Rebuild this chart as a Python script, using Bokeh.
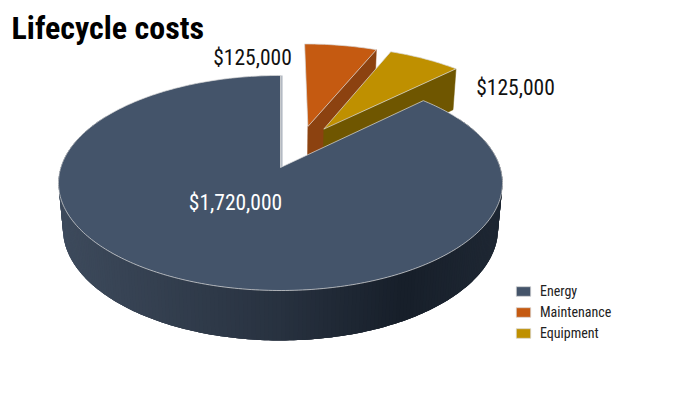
import numpy as np
from bokeh.plotting import figure
from bokeh.embed import file_html
from bokeh.resources import INLINE
from bokeh.models import Range1d, Legend, LegendItem, Label
from bokeh.core.properties import value

title = "Lifecycle costs"
categories = ["Energy", "Maintenance", "Equipment"]
costs = [1720000, 125000, 125000]
cost_labels = ["$1,720,000", "$125,000", "$125,000"]

FONT = "'Roboto Condensed', Roboto"
CX, CY = 280, 167
A, B, K, H, M = 105.3, 219.7, 0.144, 46.2, 0.02

COL = {"Energy": "#44546a", "Maintenance": "#c55a11", "Equipment": "#bf9000"}
WALL = {"Maintenance": "#8c4210", "Equipment": "#6f5600"}
EXPLODE = {"Energy": (0.0, 0.0), "Maintenance": (0.132, -0.412), "Equipment": (0.208, -0.385)}

p = figure(width=684, height=378, toolbar_location=None, output_backend="svg",
           x_range=Range1d(0, 684), y_range=Range1d(378, 0), min_border=0)
p.axis.visible = False
p.grid.visible = False
p.outline_line_color = None
p.background_fill_color = "white"
p.border_fill_color = "white"


def low(u, v):
    u, v = np.asarray(u, float), np.asarray(v, float)
    w = 1 - K * v + M
    return CX + B * u / w, CY + (A * v + H) / w


def project_top(u, v):
    u, v = np.asarray(u, float), np.asarray(v, float)
    w = 1 - K * v
    return CX + B * u / w, CY + A * v / w


# clockwise from twelve o'clock: Maintenance, Equipment, then Energy
order = ["Maintenance", "Equipment", "Energy"]
val = dict(zip(categories, costs))
total = sum(costs)
spans = {}
a0 = 0.0
for c in order:
    a1 = a0 + 2 * np.pi * val[c] / total
    spans[c] = (a0, a1)
    a0 = a1


def mix(x):
    f = (x - 57) / 445
    stops = [(0, (62, 75, 93)), (0.5, (40, 50, 64)), (0.78, (23, 31, 42)), (1, (31, 40, 52))]
    for (f0, c0), (f1, c1) in zip(stops, stops[1:]):
        if f <= f1:
            t = max(0, (f - f0) / (f1 - f0))
            r = [int(c0[i] + (c1[i] - c0[i]) * t) for i in range(3)]
            return "#%02x%02x%02x" % tuple(r)
    return "#1f2834"


handles = {}
for c in order:
    s, e = spans[c]
    du, dv = EXPLODE[c]
    th = np.linspace(s, e, max(int((e - s) * 60), 20))
    u = du + np.sin(th)
    v = dv - np.cos(th)

    if c != "Energy":
        ue, ve = u[-1], v[-1]
        xa, ya = project_top([du, ue], [dv, ve])
        xb, yb = low([du, ue], [dv, ve])
        p.patch([xa[0], xa[1], xb[1], xb[0]], [ya[0], ya[1], yb[1], yb[0]],
                fill_color=WALL[c], line_color=WALL[c], line_width=0.5)
    else:
        # outer wall, shaded strip by strip; strips overlap so that no seams show
        keep = np.where(v > -0.5)[0]
        for i in keep[:-1]:
            j = min(i + 4, len(th))
            xa, ya = project_top(u[i:j], v[i:j])
            xb, yb = low(u[i:j], v[i:j])
            col = mix(float(xa[:2].mean()))
            p.patch(np.r_[xa, xb[::-1]], np.r_[ya, yb[::-1]], fill_color=col, line_color=None)
        # the thin, pale inner face of the slice's edge at twelve o'clock
        ex, ey = project_top([du, u[-1]], [dv, v[-1]])
        p.line(ex + 1.2, ey, line_color="#b4bac3", line_width=1.8)

    px, py = project_top(np.r_[du, u], np.r_[dv, v])
    handles[c] = p.patch(px, py, fill_color=COL[c], line_color="#d9d9d9", line_width=0.8,
                         line_alpha=0.9)

legend = Legend(items=[LegendItem(label=value(c), renderers=[handles[c]]) for c in categories],
                location=(514, 37), orientation="vertical", background_fill_alpha=0,
                border_line_color=None, padding=0, margin=0, spacing=5,
                glyph_width=18, glyph_height=12, label_standoff=8,
                label_text_font=FONT, label_text_font_size="14px", label_text_color="#222222")
p.add_layout(legend, "center")

fs = "21.5px"
for txt, x, y, col in [(cost_labels[0], 235, 202, "white"),
                       (cost_labels[1], 252, 57, "#111111"),
                       (cost_labels[2], 515, 87, "#111111")]:
    p.add_layout(Label(x=x, y=y, text=txt, text_font=FONT, text_font_size=fs, text_color=col,
                       text_align="center", text_baseline="middle"))

p.add_layout(Label(x=11, y=27, text=title, text_font=FONT, text_font_size="32px",
                   text_font_style="bold", text_color="#000000",
                   text_align="left", text_baseline="middle"))

open("out.html", "w").write(file_html(p, INLINE))
